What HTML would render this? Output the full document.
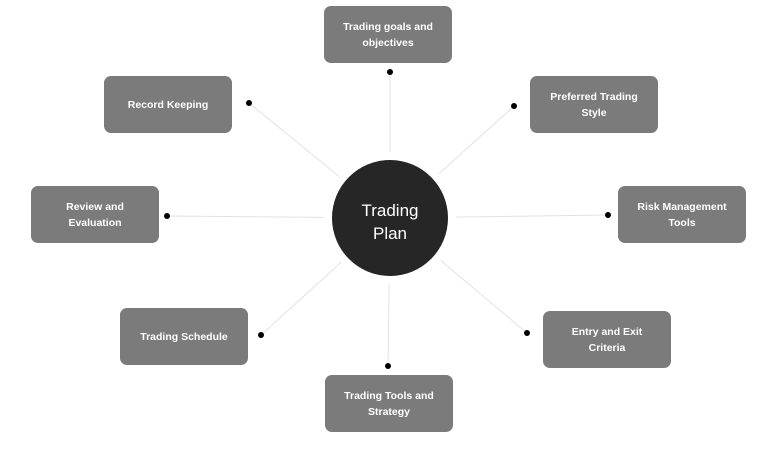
<!DOCTYPE html>
<html><head><style>
body{margin:0;background:#fff;width:768px;height:449px;overflow:hidden;position:relative;font-family:"Liberation Sans",sans-serif}
.b{position:absolute;width:128px;height:57px;background:#7b7b7b;border-radius:7px;color:#fff;font-size:10.5px;font-weight:bold;line-height:16px;display:flex;align-items:center;justify-content:center;text-align:center}
svg{position:absolute;left:0;top:0}
</style></head><body>
<svg width="768" height="449">
<g stroke="#e2e2e2" stroke-width="1">
<line x1="390" y1="72" x2="390" y2="218"/>
<line x1="249" y1="103" x2="390" y2="218"/>
<line x1="514" y1="106" x2="390" y2="218"/>
<line x1="167" y1="216" x2="390" y2="218"/>
<line x1="608" y1="215" x2="390" y2="218"/>
<line x1="261" y1="335" x2="390" y2="218"/>
<line x1="527" y1="333" x2="390" y2="218"/>
<line x1="388" y1="366" x2="390" y2="218"/>
</g>
<circle cx="390" cy="218" r="66" fill="#fff"/>
<circle cx="390" cy="218" r="58" fill="#262626"/>
<g fill="#000">
<circle cx="390" cy="72" r="3"/><circle cx="249" cy="103" r="3"/><circle cx="514" cy="106" r="3"/>
<circle cx="167" cy="216" r="3"/><circle cx="608" cy="215" r="3"/><circle cx="261" cy="335" r="3"/>
<circle cx="527" cy="333" r="3"/><circle cx="388" cy="366" r="3"/>
</g>
<text x="390" y="216" fill="#fff" font-size="17" text-anchor="middle" font-family="Liberation Sans,sans-serif">Trading</text>
<text x="390" y="239" fill="#fff" font-size="17" text-anchor="middle" font-family="Liberation Sans,sans-serif">Plan</text>
</svg>
<div class="b" style="left:324px;top:6px">Trading goals and<br>objectives</div>
<div class="b" style="left:104px;top:76px">Record Keeping</div>
<div class="b" style="left:530px;top:76px">Preferred Trading<br>Style</div>
<div class="b" style="left:31px;top:186px">Review and<br>Evaluation</div>
<div class="b" style="left:618px;top:186px">Risk Management<br>Tools</div>
<div class="b" style="left:120px;top:308px">Trading Schedule</div>
<div class="b" style="left:543px;top:311px">Entry and Exit<br>Criteria</div>
<div class="b" style="left:325px;top:375px">Trading Tools and<br>Strategy</div>
</body></html>
